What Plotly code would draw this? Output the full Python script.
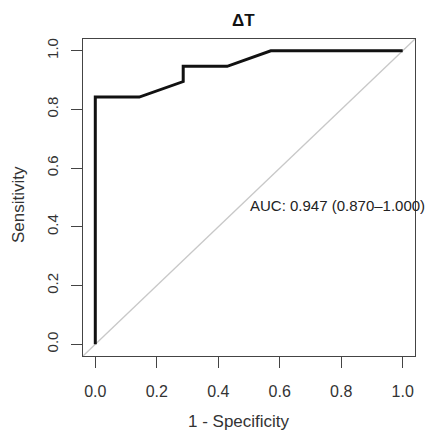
import plotly.graph_objects as go

# ROC curve data (1 - specificity, sensitivity)
fpr = [0.0, 0.0, 0.143, 0.286, 0.286, 0.429, 0.571, 1.0]
tpr = [0.0, 0.842, 0.842, 0.895, 0.947, 0.947, 1.0, 1.0]
tick_vals = [0.0, 0.2, 0.4, 0.6, 0.8, 1.0]
tick_text = ["0.0", "0.2", "0.4", "0.6", "0.8", "1.0"]
title_text = "ΔT"
auc_text = "AUC: 0.947 (0.870–1.000)"

FONT = "Arial"

fig = go.Figure()
fig.add_trace(go.Scatter(x=fpr, y=tpr, mode="lines",
                         line=dict(color="#111111", width=3), showlegend=False))

fig.add_shape(type="line", xref="paper", yref="paper", x0=0, y0=0, x1=1, y1=1,
              line=dict(color="#c8c8c8", width=1.3), layer="below")

axis_common = dict(
    range=[-0.04, 1.04], tickvals=tick_vals, ticktext=tick_text,
    showgrid=False, zeroline=False, showline=True, mirror=True,
    linecolor="#444444", linewidth=1.2, ticks="outside", ticklen=11,
    tickcolor="#444444", tickwidth=1.2,
)

fig.update_layout(
    width=433, height=436,
    margin=dict(l=83, r=18, t=39, b=80),
    paper_bgcolor="white", plot_bgcolor="white",
    xaxis=dict(**axis_common, ticklabelstandoff=10,
               tickfont=dict(family=FONT, size=16, color="#333333")),
    yaxis=dict(**axis_common, tickangle=-90, ticklabelstandoff=7,
               tickfont=dict(family=FONT, size=15, color="#333333")),
    annotations=[
        dict(text="<b>" + title_text + "</b>", xref="paper", yref="paper",
             x=(243 - 83) / 332, y=(436 - 21 - 80) / 317, xanchor="center", yanchor="middle",
             showarrow=False, font=dict(family=FONT, size=17, color="#111111")),
        dict(text="1 - Specificity", xref="paper", yref="paper",
             x=(239 - 83) / 332, y=(436 - 421 - 80) / 317, xanchor="center", yanchor="middle",
             showarrow=False, font=dict(family=FONT, size=17, color="#333333")),
        dict(text="Sensitivity", xref="paper", yref="paper",
             x=(18 - 83) / 332, y=(436 - 205 - 80) / 317, xanchor="center", yanchor="middle",
             textangle=-90, showarrow=False, font=dict(family=FONT, size=17, color="#333333")),
        dict(text=auc_text, xref="x", yref="y", x=0.498, y=0.473,
             xanchor="left", yanchor="middle", showarrow=False,
             font=dict(family=FONT, size=15, color="#222222")),
    ],
)

fig.write_html("out.html", config={"displayModeBar": False},
               post_script="document.body.style.margin='0px';")
